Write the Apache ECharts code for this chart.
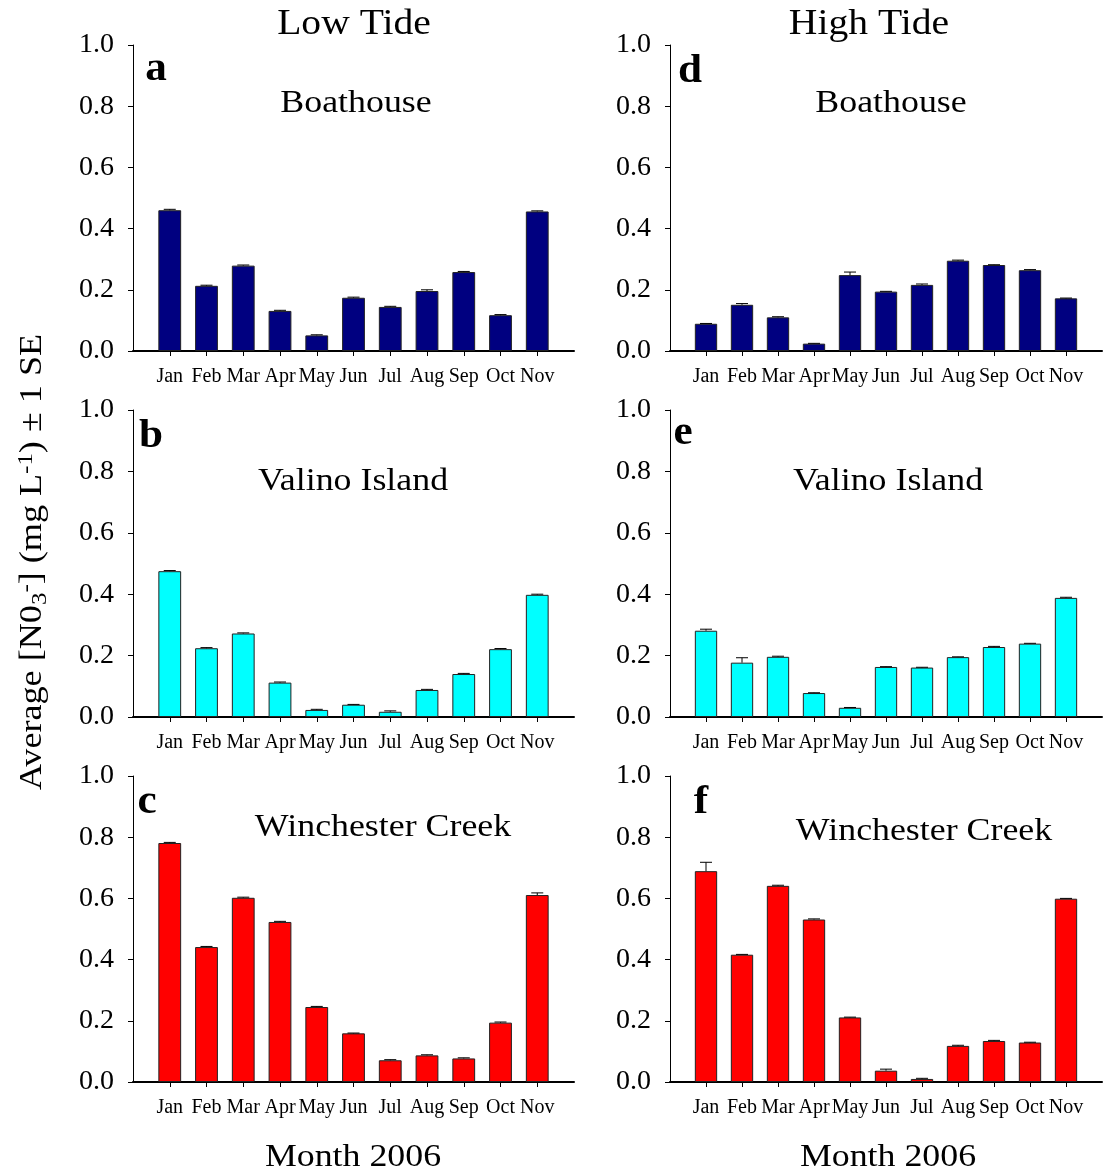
<!DOCTYPE html>
<html>
<head>
<meta charset="utf-8">
<script src="https://cdn.jsdelivr.net/npm/echarts@6/dist/echarts.min.js"></script>
<style>
html,body{margin:0;padding:0;background:#fff;}
#chart{width:1105px;height:1175px;}
</style>
</head>
<body>
<div id="chart"></div>
<script>
// ---- data ----
const months = ['Jan','Feb','Mar','Apr','May','Jun','Jul','Aug','Sep','Oct','Nov'];
const yTicks = [0, 0.2, 0.4, 0.6, 0.8, 1.0];

// Low tide
const lowBoathouse     = [0.460, 0.213, 0.279, 0.131, 0.051, 0.174, 0.144, 0.196, 0.258, 0.117, 0.456];
const lowBoathouseErr  = [0.003, 0.002, 0.002, 0.002, 0.002, 0.002, 0.002, 0.004, 0.002, 0.002, 0.002];
const lowValino        = [0.475, 0.224, 0.272, 0.112, 0.023, 0.040, 0.017, 0.088, 0.140, 0.221, 0.398];
const lowValinoErr     = [0.002, 0.002, 0.002, 0.002, 0.002, 0.001, 0.003, 0.002, 0.002, 0.002, 0.002];
const lowWinchester    = [0.781, 0.441, 0.602, 0.523, 0.245, 0.159, 0.071, 0.087, 0.077, 0.194, 0.611];
const lowWinchesterErr = [0.002, 0.002, 0.002, 0.002, 0.002, 0.001, 0.002, 0.002, 0.002, 0.002, 0.007];

// High tide
const highBoathouse     = [0.089, 0.151, 0.110, 0.024, 0.248, 0.194, 0.216, 0.295, 0.281, 0.264, 0.172];
const highBoathouseErr  = [0.001, 0.004, 0.002, 0.001, 0.010, 0.001, 0.003, 0.002, 0.001, 0.002, 0.001];
const highValino        = [0.281, 0.177, 0.196, 0.078, 0.030, 0.163, 0.161, 0.195, 0.228, 0.239, 0.388];
const highValinoErr     = [0.005, 0.016, 0.002, 0.001, 0.001, 0.001, 0.001, 0.001, 0.002, 0.001, 0.002];
const highWinchester    = [0.689, 0.416, 0.641, 0.531, 0.211, 0.037, 0.010, 0.118, 0.134, 0.129, 0.599];
const highWinchesterErr = [0.029, 0.001, 0.002, 0.002, 0.001, 0.005, 0.002, 0.002, 0.002, 0.001, 0.001];

const panelLetters = ['a','b','c','d','e','f'];
const siteNames = ['Boathouse','Valino Island','Winchester Creek'];
const tideNames = ['Low Tide','High Tide'];
const xTitle = 'Month 2006';

// ---- layout ----
const SERIF = '"Liberation Serif","Times New Roman",serif';
const colX = [{left:133, width:441}, {left:670, width:438}];
const rowY = [{top:45, height:306}, {top:410, height:307}, {top:776, height:306}];
const colors = ['#000080', '#00FFFF', '#FF0000'];

const panels = [
  {col:0,row:0,vals:lowBoathouse,err:lowBoathouseErr},
  {col:0,row:1,vals:lowValino,err:lowValinoErr},
  {col:0,row:2,vals:lowWinchester,err:lowWinchesterErr},
  {col:1,row:0,vals:highBoathouse,err:highBoathouseErr},
  {col:1,row:1,vals:highValino,err:highValinoErr},
  {col:1,row:2,vals:highWinchester,err:highWinchesterErr}
];

const cats = [''].concat(months, ['']);

const grid = [], xAxis = [], yAxis = [], series = [];
panels.forEach((p, i) => {
  grid.push({left: colX[p.col].left, width: colX[p.col].width, top: rowY[p.row].top, height: rowY[p.row].height, containLabel:false});
  xAxis.push({
    type:'category', gridIndex:i, data:cats, boundaryGap:false,
    axisLine:{show:true, lineStyle:{color:'#000', width:2}},
    axisTick:{show:true, length:5, inside:false, lineStyle:{color:'#000'}, interval:(idx, v) => v !== ''},
    axisLabel:{color:'#000', fontFamily:SERIF, fontSize:20, margin:16, interval:0},
    splitLine:{show:false}
  });
  yAxis.push({
    type:'value', gridIndex:i, min:0, max:1, interval:0.2,
    axisLine:{show:true, lineStyle:{color:'#000', width:1}},
    axisTick:{show:true, length:5, lineStyle:{color:'#000'}},
    axisLabel:{color:'#000', fontFamily:SERIF, fontSize:28, margin:19, formatter:v => v.toFixed(1)},
    splitLine:{show:false}
  });
  const padded = [null].concat(p.vals, [null]);
  series.push({
    type:'bar', xAxisIndex:i, yAxisIndex:i, data:padded, barWidth:'62%',
    itemStyle:{color:colors[p.row], borderColor:'#222', borderWidth:1},
    silent:true, animation:false
  });
  const errData = p.vals.map((v, k) => [k + 1, v, v + p.err[k]]);
  series.push({
    type:'custom', xAxisIndex:i, yAxisIndex:i, data:errData, silent:true, animation:false, z:5,
    renderItem:(params, api) => {
      const x = api.value(0);
      const lo = api.coord([x, api.value(1)]);
      const hi = api.coord([x, api.value(2)]);
      const cap = 6;
      return {type:'group', children:[
        {type:'line', shape:{x1:lo[0], y1:lo[1], x2:hi[0], y2:hi[1]}, style:{stroke:'#000', lineWidth:1}},
        {type:'line', shape:{x1:hi[0]-cap, y1:hi[1], x2:hi[0]+cap, y2:hi[1]}, style:{stroke:'#000', lineWidth:1}}
      ]};
    }
  });
});

const tx = (text, x, y, size, weight, sx) => ({
  type:'text', x:x, y:y, scaleX:sx || 1, silent:true,
  style:{text:text, fill:'#000', font:(weight||'normal') + ' ' + size + 'px ' + SERIF, textAlign:'center', textVerticalAlign:'middle'}
});

const graphic = [
  tx(tideNames[0], 354, 25, 36, 'normal', 1.1),
  tx(tideNames[1], 869, 25, 36, 'normal', 1.1),
  tx(siteNames[0], 356, 104, 32, 'normal', 1.12),
  tx(siteNames[0], 891, 104, 32, 'normal', 1.12),
  tx(siteNames[1], 353, 482, 32, 'normal', 1.12),
  tx(siteNames[1], 888, 482, 32, 'normal', 1.12),
  tx(siteNames[2], 383, 828, 32, 'normal', 1.12),
  tx(siteNames[2], 924, 832, 32, 'normal', 1.12),
  tx(panelLetters[0], 156, 70, 40, 'bold', 1.08),
  tx(panelLetters[1], 151, 437, 40, 'bold', 1.08),
  tx(panelLetters[2], 147, 803, 40, 'bold', 1.08),
  tx(panelLetters[3], 690, 72, 40, 'bold', 1.08),
  tx(panelLetters[4], 683, 434, 40, 'bold', 1.08),
  tx(panelLetters[5], 701, 803, 40, 'bold', 1.08),
  tx(xTitle, 353, 1158, 32, 'normal', 1.12),
  tx(xTitle, 888, 1158, 32, 'normal', 1.12),
  {
    type:'text', x:33, y:562, rotation:Math.PI/2, scaleX:1.13, silent:true,
    style:{
      text:'{n|Average [N0}{sub|3}{sup|-}{n|] (mg L}{sup|-1}{n|) ± 1 SE}',
      align:'center', verticalAlign:'middle', fill:'#000',
      rich:{
        n:{fontFamily:SERIF, fontSize:32, fill:'#000', lineHeight:36},
        sub:{fontFamily:SERIF, fontSize:22, fill:'#000', verticalAlign:'bottom', lineHeight:36},
        sup:{fontFamily:SERIF, fontSize:22, fill:'#000', verticalAlign:'top', lineHeight:36}
      }
    }
  }
];

const chart = echarts.init(document.getElementById('chart'), null, {renderer:'canvas'});
chart.setOption({animation:false, backgroundColor:'#fff', grid, xAxis, yAxis, series, graphic});
</script>
</body>
</html>
